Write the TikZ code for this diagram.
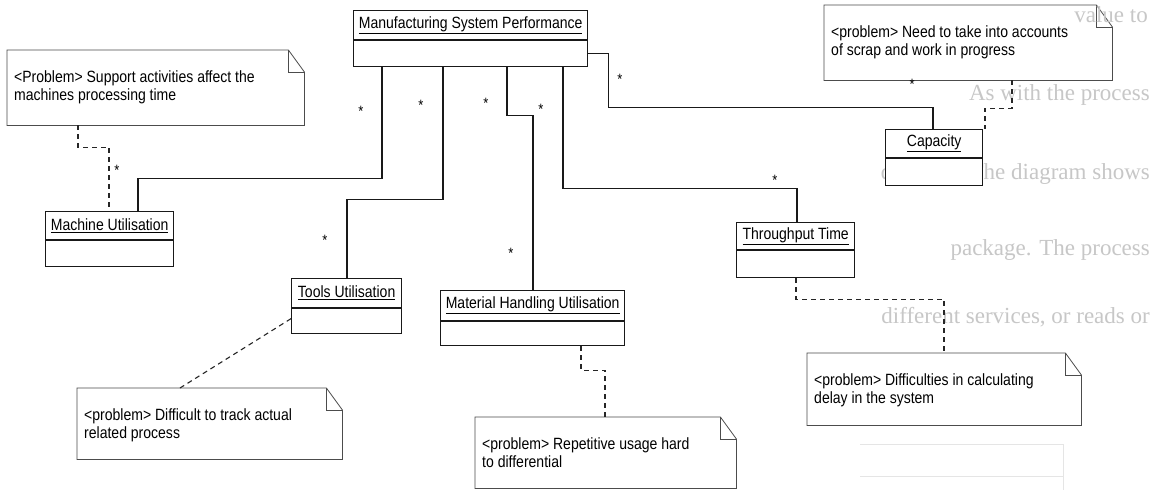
\documentclass[tikz,border=0pt]{standalone}
\usepackage{fontspec}
\setmainfont{Liberation Sans}[FakeStretch=0.86]
\newfontfamily\bleedfont{Liberation Serif}

% class box: name, x, y (top left), width, height, divider offset, title
\newcommand{\mkclass}[7]{%
  \node[clsbox, minimum width=#4, minimum height=#5, anchor=north west] (#1) at (#2,#3) {};
  \draw[clsline] ([yshift=-#6]#1.north west) -- ([yshift=-#6]#1.north east);
  \node[clsname] (#1-name) at ([yshift=-#6/2]#1.north) {\underline{#7}};
}
% note with folded corner: name, x, y (top left), width, height, text
\newcommand{\mknote}[6]{%
  \node[notebox, minimum width=#4, minimum height=#5, anchor=north west] (#1) at (#2,#3) {};
  \draw[noteline] (#1.north west) -- ([xshift=-16]#1.north east) -- ([yshift=-22]#1.north east)
        -- (#1.south east) -- (#1.south west) -- cycle;
  \draw[noteline] ([xshift=-16]#1.north east) |- ([yshift=-22]#1.north east);
  \node[notetext, anchor=north west] (#1-text) at ([xshift=7,yshift=-20]#1.north west) {#6};
}

\begin{document}
\begin{tikzpicture}[x=1pt,y=-1pt,
  clsbox/.style={draw=black!90, line width=1.3pt, fill=white, inner sep=0pt},
  clsline/.style={draw=black!90, line width=1.1pt},
  clsname/.style={inner sep=0pt, font=\fontsize{16.3}{19}\selectfont},
  notebox/.style={fill=white, inner sep=0pt},
  noteline/.style={draw=black!70, line width=0.8pt, line join=miter},
  notetext/.style={inner sep=0pt, align=left, font=\fontsize{16.3}{18.5}\selectfont},
  assoc/.style={draw=black!90, line width=1.2pt},
  anchorline/.style={draw=black!85, line width=1.1pt, dash pattern=on 5pt off 4pt},
  mult/.style={inner sep=0pt, font=\fontsize{15}{15}\selectfont},
  bleed/.style={inner sep=0pt, anchor=base east, text=black!22, font=\bleedfont\fontsize{23}{23}\selectfont},
  ghost/.style={draw=black!10, line width=0.8pt},
]
\useasboundingbox (0,0) rectangle (1154,490);
\fill[white] (0,0) rectangle (1154,490);

% text showing through from the facing page
\node[bleed] (b2) at (1150,100) {As with the process};
\node[bleed] (b3) at (1150,179) {diagram. The diagram shows};
\node[bleed] (b4) at (1150,255) {package. The process};
\node[bleed] (b5) at (1150,323) {different services, or reads or};
\draw[ghost] (860,444) -- (1063,444) -- (1063,490);
\draw[ghost] (860,476) -- (1063,476);

% classes
\mkclass{msp}{353}{10}{234}{56}{30}{Manufacturing System Performance}
\mkclass{cap}{885}{129}{97}{56}{29}{Capacity}
\mkclass{mach}{45}{211}{128}{55}{29}{Machine Utilisation}
\mkclass{tools}{291}{278}{110}{55}{30}{Tools Utilisation}
\mkclass{mat}{440}{290}{184}{55}{31}{Material Handling Utilisation}
\mkclass{thr}{736}{222}{118}{55}{28}{Throughput Time}

% problem notes
\mknote{nmach}{7}{50}{297}{75}{<Problem> Support activities affect the\\machines processing time}
\mknote{ncap}{824}{5}{288}{75}{<problem> Need to take into accounts\\of scrap and work in progress}
\mknote{ntools}{77}{388}{265}{71}{<problem> Difficult to track actual\\related process}
\mknote{nmat}{475}{417}{261}{71}{<problem> Repetitive usage hard\\to differential}
\mknote{nthr}{807}{353}{274}{72}{<problem> Difficulties in calculating\\delay in the system}

% the first faint line also shows across the corner of the capacity note
\node[bleed] (b1) at (1148,22) {value to};

% associations
\draw[assoc] ([xshift=29]msp.south west) -- ++(0,111) -| ([xshift=93]mach.north west);
\draw[assoc] ([xshift=90]msp.south west) -- ++(0,132) -| ([xshift=56]tools.north west);
\draw[assoc] ([xshift=154]msp.south west) -- ++(0,48) -| ([xshift=93]mat.north west);
\draw[assoc] ([xshift=210]msp.south west) -- ++(0,121) -| ([xshift=61]thr.north west);
\draw[assoc] ([yshift=14]msp.south east) -- ++(20,0) -- ++(0,54) -| ([xshift=48]cap.north west);

% note anchors
\draw[anchorline] ([xshift=71]nmach.south west) -- ++(0,22) -| ([xshift=64]mach.north west);
\draw[anchorline] ([xshift=188]ncap.south west) -- ++(0,28) -| ([xshift=100]cap.north west);
\draw[anchorline] ([yshift=-12.5]tools.west) -- ([xshift=103]ntools.north west);
\draw[anchorline] ([xshift=141]mat.south west) -- ++(0,24) -| ([xshift=130]nmat.north west);
\draw[anchorline] ([xshift=60]thr.south west) -- ++(0,21) -| ([xshift=137]nthr.north west);

% multiplicities
\node[mult] (m1) at (361,111.6) {*};
\node[mult] (m2) at (421,105.6) {*};
\node[mult] (m3) at (486,103.6) {*};
\node[mult] (m4) at (541,109.6) {*};
\node[mult] (m5) at (620,79.6) {*};
\node[mult] (m6) at (117,170.6) {*};
\node[mult] (m7) at (325,240.6) {*};
\node[mult] (m8) at (511,253.6) {*};
\node[mult] (m9) at (775,180.6) {*};
\node[mult] (m10) at (912,84.6) {*};
\end{tikzpicture}
\end{document}
